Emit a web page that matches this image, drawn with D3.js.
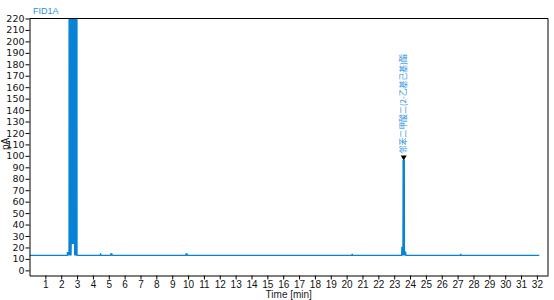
<!DOCTYPE html>
<html>
<head>
<meta charset="utf-8">
<script src="https://cdn.jsdelivr.net/npm/d3@7"></script>
<style>
  body { margin: 0; background: #fff; }
  svg { display: block; }
</style>
</head>
<body>
<script>
// chromatogram FID1A, retention time (min) vs signal (pA)
// signalPA is the trace, signalLowPA the lowest reading drawn in the same column
const timeMin = [0.0, 2.38, 2.39, 2.49, 2.50, 2.66, 2.67, 2.80, 2.81, 2.99, 3.00,
  4.46, 4.47, 4.49, 4.50, 5.12, 5.13, 5.20, 5.21, 9.86, 9.87, 9.94, 9.95,
  20.33, 20.34, 20.36, 20.37, 23.47, 23.48, 23.55, 23.56, 23.64, 23.65, 23.73, 23.74,
  27.18, 27.19, 27.21, 27.22, 32.15];
const signalPA = [13, 13, 15.5, 15.5, 600, 600, 600, 600, 600, 600, 13,
  13, 14.5, 14.5, 13, 13, 14.5, 14.5, 13, 13, 14.5, 14.5, 13,
  13, 14, 14, 13, 13, 20, 20, 96, 96, 16, 16, 13,
  13, 14, 14, 13, 13];
const signalLowPA = [13, 13, 13, 13, 13, 13, 23, 23, 13, 13, 13,
  13, 13, 13, 13, 13, 13, 13, 13, 13, 13, 13, 13,
  13, 13, 13, 13, 13, 13, 13, 13, 13, 13, 13, 13,
  13, 13, 13, 13, 13];

const peakNames = ["邻苯二甲酸二(2-乙基己基)酯"];
const peakTimes = [23.6];
const peakHeights = [96];

const xTicks = d3.range(1, 33);
const yTicks = d3.range(0, 221, 10);

var width = 554, height = 300;
var mLeft = 29.5, mRight = 548, mTop = 18.5, mBottom = 275.5;
var blue = "#0882d6";

var svg = d3.select("body").append("svg")
  .attr("width", width)
  .attr("height", height);

var x = d3.scaleLinear().domain([0, 32.7]).range([mLeft, mRight]);
var y = d3.scaleLinear().domain([-4.5, 220]).range([mBottom, mTop]);

svg.append("defs").append("clipPath").attr("id", "plot")
  .append("rect")
  .attr("x", mLeft).attr("y", mTop)
  .attr("width", mRight - mLeft).attr("height", mBottom - mTop);

var pts = timeMin.map((t, i) => [t, signalPA[i], signalLowPA[i]]);

// filled between low and high readings so the off-scale solvent peak reads as a block
var g = svg.append("g").attr("clip-path", "url(#plot)");
g.append("path")
  .datum(pts)
  .attr("fill", blue)
  .attr("d", d3.area().x(d => x(d[0])).y0(d => y(d[2])).y1(d => y(d[1])));
g.append("path")
  .datum(pts)
  .attr("fill", "none")
  .attr("stroke", blue)
  .attr("stroke-width", 1.2)
  .attr("d", d3.line().x(d => x(d[0])).y(d => y(d[1])));

// frame
svg.append("path")
  .attr("d", `M${mLeft},${mTop}H${mRight}V${mBottom}`)
  .attr("fill", "none")
  .attr("stroke", "#000")
  .attr("stroke-width", 1);

var ya = svg.append("g")
  .attr("transform", `translate(${mLeft},0)`)
  .call(d3.axisLeft(y).tickValues(yTicks).tickSize(4).tickPadding(1).tickSizeOuter(0));
ya.select(".domain").attr("stroke", "#000");
ya.selectAll(".tick line").attr("stroke", "#000");
ya.selectAll("text")
  .attr("fill", "#111")
  .style("font-family", "'DejaVu Sans', sans-serif")
  .style("font-size", "9.5px");

var xa = svg.append("g")
  .attr("transform", `translate(0,${mBottom})`)
  .call(d3.axisBottom(x).tickValues(xTicks).tickSize(4).tickPadding(1).tickSizeOuter(0));
xa.select(".domain").attr("stroke", "#000");
xa.selectAll(".tick line").attr("stroke", "#000");
xa.selectAll("text")
  .attr("fill", "#111")
  .style("font-family", "'Liberation Sans Narrow', 'Liberation Sans', sans-serif")
  .style("font-size", "10px");

svg.append("text")
  .attr("x", (mLeft + mRight) / 2)
  .attr("y", 297.5)
  .attr("text-anchor", "middle")
  .style("font-family", "'Liberation Sans Narrow', 'Liberation Sans', sans-serif")
  .style("font-size", "10px")
  .attr("fill", "#222")
  .text("Time [min]");

svg.append("text")
  .attr("transform", "translate(9,144) rotate(-90)")
  .attr("text-anchor", "middle")
  .style("font-family", "'Liberation Sans', sans-serif")
  .style("font-size", "10px")
  .attr("fill", "#222")
  .text("pA");

svg.append("text")
  .attr("x", 33)
  .attr("y", 14)
  .style("font-family", "'Liberation Sans', sans-serif")
  .style("font-size", "9px")
  .attr("fill", "#2a8fe0")
  .text("FID1A");

// peak markers and names
peakNames.forEach((name, i) => {
  var px = x(peakTimes[i]), py = y(peakHeights[i]);
  svg.append("path")
    .attr("d", `M${px - 3},${py - 5}H${px + 3}L${px},${py}Z`)
    .attr("fill", "#000");
  svg.append("text")
    .attr("transform", `translate(${px},${py - 7}) rotate(-90)`)
    .attr("dy", "0.35em")
    .style("font-family", "'Noto Sans CJK SC', sans-serif")
    .style("font-size", "7.9px")
    .attr("fill", "#2a8fe0")
    .text(name);
});
</script>
</body>
</html>
